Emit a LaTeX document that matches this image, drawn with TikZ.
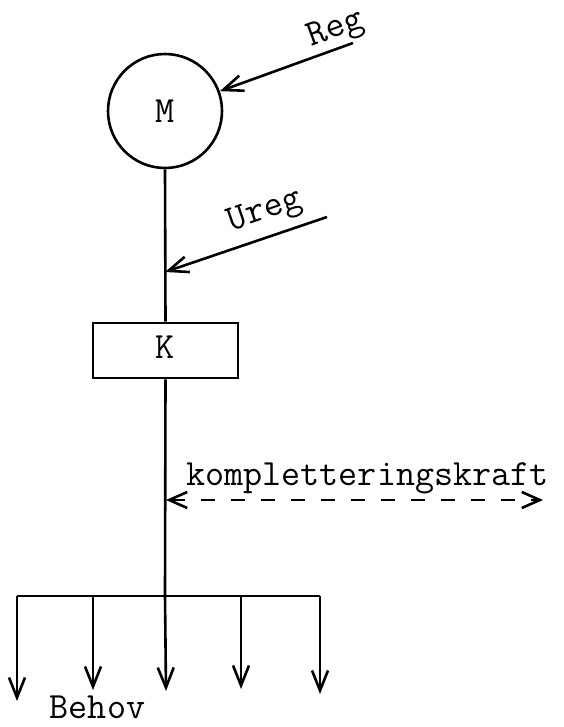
\documentclass[tikz,border=0pt]{standalone}
\usetikzlibrary{arrows.meta}
\begin{document}
\begin{tikzpicture}[x=0.5pt,y=-0.5pt,
  ln/.style={line width=1.3pt},
  barb/.style={ln,-{Straight Barb[length=10pt,width=8pt,line width=1.3pt]}},
  lbl/.style={font=\fontsize{18.5}{21}\selectfont\ttfamily,inner sep=0pt},
  dbl/.style={line width=1pt,dash pattern=on 7pt off 8pt,
     {Straight Barb[length=9pt,width=8pt,line width=1.3pt]}-{Straight Barb[length=9pt,width=8pt,line width=1.3pt]}}]
\useasboundingbox (0,0) rectangle (563,727);
% main nodes
\node[circle,draw,ln,minimum size=57pt,inner sep=0pt,lbl] (m) at (165,111) {M};
\node[draw,ln,minimum width=72.5pt,minimum height=27.5pt,inner sep=0pt] (k) at (165.5,350.5) {};
\node[lbl,anchor=base] (kt) at (165.5,358) {K};
% Reg input
\coordinate (rs) at (353,43);
\draw[barb] (rs) -- (m);
\node[lbl,rotate=20] (reg) at (336,30) {Reg};
% main vertical line
\draw[ln] (m.south) -- (k.north);
\coordinate (ut) at (165,272);
\coordinate (us) at (327,217);
\draw[barb] (us) -- (ut);
\node[lbl,rotate=19] (ureg) at (265,212) {Ureg};
% bar
\coordinate (bc) at (165,596);
\draw[ln] (k.south) -- (bc);
\coordinate (b1) at (17,596);
\coordinate (b2) at (93,596);
\coordinate (b4) at (241,596);
\coordinate (b5) at (320,596);
\draw[ln] (b1) -- (b5);
\coordinate (t1) at (17,701);
\coordinate (t2) at (93,690);
\coordinate (t3) at (166,691);
\coordinate (t4) at (241,689);
\coordinate (t5) at (320,694);
\draw[barb] (b1) -- (t1);
\draw[barb] (b2) -- (t2);
\draw[barb] (bc) -- (t3);
\draw[barb] (b4) -- (t4);
\draw[barb] (b5) -- (t5);
\node[lbl,anchor=base] (beh) at (97.5,718) {Behov};
% dashed double arrow
\coordinate (d1) at (166,500);
\coordinate (d2) at (543,500);
\draw[dbl] (d1) -- (d2);
\node[lbl,anchor=base] (komp) at (367.5,485) {kompletteringskraft};
\end{tikzpicture}
\end{document}
